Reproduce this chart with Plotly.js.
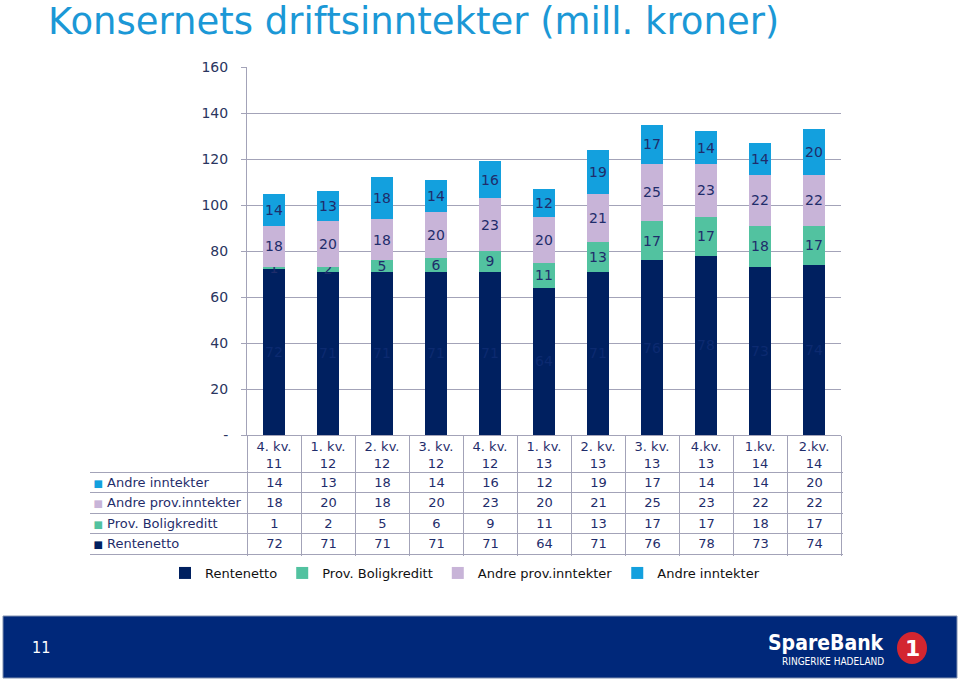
<!DOCTYPE html>
<html>
<head>
<meta charset="utf-8">
<script src="https://cdn.plot.ly/plotly-3.0.1.min.js"></script>
<style>html,body{margin:0;padding:0;background:#fff;}#chart{width:960px;height:681px;}</style>
</head>
<body>
<div id="chart"></div>
<script>
// ---- data ----
const categories = ['4. kv. 11','1. kv. 12','2. kv. 12','3. kv. 12','4. kv. 12','1. kv. 13','2. kv. 13','3. kv. 13','4.kv. 13','1.kv. 14','2.kv. 14'];
const headerLabels = ['4. kv.<br>11','1. kv.<br>12','2. kv.<br>12','3. kv.<br>12','4. kv.<br>12','1. kv.<br>13','2. kv.<br>13','3. kv.<br>13','4.kv.<br>13','1.kv.<br>14','2.kv.<br>14'];
const seriesNames = ['Rentenetto','Prov. Boligkreditt','Andre prov.inntekter','Andre inntekter'];
const rentenetto = [72,71,71,71,71,64,71,76,78,73,74];
const provBoligkreditt = [1,2,5,6,9,11,13,17,17,18,17];
const andreProvInntekter = [18,20,18,20,23,20,21,25,23,22,22];
const andreInntekter = [14,13,18,14,16,12,19,17,14,14,20];
const yTickVals = [0,20,40,60,80,100,120,140,160];
const yTickText = ['-','20','40','60','80','100','120','140','160'];

// ---- styles ----
const colors = ['#002060','#52C2A0','#C8B4D8','#13A0DE'];
const labelColors = ['#0C2A70','#1F2D6B','#1F2D6B','#1F2D6B'];
const navyText = '#1F2D6B';
const gridCol = '#A3A3B8';
const FONT = 'DejaVu Sans, Verdana, sans-serif';
const COND = 'DejaVu Sans Condensed, DejaVu Sans, sans-serif';
const W = 960, H = 681;
const px = x => x / W;
const py = y => 1 - y / H;

// table geometry (pixels)
const tblLeft = 91, plotLeft = 247, plotRight = 841, hdrTop = 435, rowsTop = 472, rowsBottom = 554;
const pad = 1.5;
const nCat = categories.length, nRow = seriesNames.length;
const colW = (plotRight - plotLeft) / nCat;
const rowH = (rowsBottom - rowsTop) / nRow;
const nameW = plotLeft - tblLeft;

const seriesValues = [rentenetto, provBoligkreditt, andreProvInntekter, andreInntekter];

const traces = seriesValues.map((vals, i) => ({
  type: 'bar',
  name: seriesNames[i],
  x: categories,
  y: vals,
  text: vals.map(String),
  textposition: 'inside',
  insidetextanchor: 'middle',
  textangle: 0,
  constraintext: 'none',
  textfont: {family: FONT, size: 14, color: labelColors[i]},
  marker: {color: colors[i], line: {width: 0}},
  width: 0.4,
  hoverinfo: 'skip',
  xaxis: 'x', yaxis: 'y'
}));

// data table: transparent heatmap cells sharing the category positions (rows bottom->top = series order)
const clearScale = [[0, 'rgba(255,255,255,0)'], [1, 'rgba(255,255,255,0)']];
traces.push({
  type: 'heatmap',
  x: categories,
  y: seriesNames,
  z: seriesValues,
  text: seriesValues.map(r => r.map(String)),
  texttemplate: '%{text}',
  textfont: {family: FONT, size: 13, color: navyText},
  colorscale: clearScale, showscale: false, showlegend: false,
  hoverinfo: 'skip',
  xaxis: 'x2', yaxis: 'y2'
});
// row-name column
traces.push({
  type: 'heatmap',
  x: ['navn'],
  y: seriesNames,
  z: seriesNames.map(() => [0]),
  colorscale: clearScale, showscale: false, showlegend: false,
  hoverinfo: 'skip',
  xaxis: 'x3', yaxis: 'y2'
});
const rowLabels = seriesNames.map((n, i) =>
  `<span style="color:${colors[i]};font-size:10px">■</span> ${n}`);

const layout = {
  width: W, height: H,
  margin: {l: 0, r: 0, t: 0, b: 0},
  paper_bgcolor: 'white', plot_bgcolor: 'white',
  barmode: 'stack',
  showlegend: true,
  font: {family: FONT, color: navyText},
  title: {
    text: 'Konsernets driftsinntekter (mill. kroner)',
    x: px(48), xanchor: 'left', y: py(21), yanchor: 'middle',
    font: {family: FONT, size: 37, color: '#1B98D6'}
  },
  xaxis: {
    domain: [px(plotLeft), px(plotRight)],
    type: 'category',
    showticklabels: false,
    tickson: 'boundaries',
    ticks: 'outside', ticklen: rowsTop - hdrTop, tickcolor: gridCol, tickwidth: 1,
    showgrid: false, zeroline: false,
    showline: true, linecolor: gridCol, linewidth: 1,
    fixedrange: true
  },
  yaxis: {
    domain: [py(hdrTop), py(67)],
    range: [0, 160],
    tickvals: yTickVals, ticktext: yTickText,
    showgrid: true, gridcolor: gridCol, gridwidth: 1,
    zeroline: false,
    showline: true, linecolor: gridCol, linewidth: 1,
    ticks: 'outside', ticklen: 5, tickcolor: gridCol,
    ticklabelstandoff: 10,
    tickfont: {family: FONT, size: 14, color: '#2A3560'},
    fixedrange: true
  },
  xaxis2: {
    domain: [px(plotLeft - pad), px(plotRight + pad)],
    range: [-0.5 - pad / colW, nCat - 0.5 + pad / colW],
    anchor: 'y2', side: 'top',
    type: 'category', categoryorder: 'array', categoryarray: categories,
    tickvals: categories, ticktext: headerLabels,
    tickangle: 0,
    tickfont: {family: FONT, size: 13, color: navyText},
    ticklabelstandoff: -1,
    tickson: 'boundaries', ticks: '',
    showgrid: true, gridcolor: gridCol, gridwidth: 1,
    zeroline: false, showline: false,
    fixedrange: true
  },
  xaxis3: {
    domain: [px(tblLeft - pad), px(plotLeft + pad)],
    range: [-0.5 - pad / nameW, 0.5 + pad / nameW],
    anchor: 'y2',
    type: 'category',
    showticklabels: false,
    tickson: 'boundaries', ticks: '',
    showgrid: true, gridcolor: gridCol, gridwidth: 1,
    zeroline: false, showline: false,
    fixedrange: true
  },
  yaxis2: {
    domain: [py(rowsBottom + pad), py(rowsTop - pad)],
    range: [-0.5 - pad / rowH, nRow - 0.5 + pad / rowH],
    anchor: 'x3',
    type: 'category', categoryorder: 'array', categoryarray: seriesNames,
    tickvals: seriesNames, ticktext: rowLabels,
    ticklabelposition: 'inside',
    ticklabelstandoff: 1,
    tickfont: {family: FONT, size: 13, color: navyText},
    tickson: 'boundaries', ticks: '',
    showgrid: true, gridcolor: gridCol, gridwidth: 1,
    zeroline: false, showline: false,
    fixedrange: true
  },
  legend: {
    orientation: 'h',
    x: px(465), xanchor: 'center',
    y: py(573), yanchor: 'middle',
    traceorder: 'normal',
    font: {family: FONT, size: 13, color: '#111'},
    itemwidth: 30,
    bgcolor: 'rgba(0,0,0,0)'
  },
  shapes: [
    {type: 'rect', xref: 'paper', yref: 'paper', x0: px(3), x1: px(957), y0: py(678), y1: py(616),
     fillcolor: '#00287A', line: {color: '#8090B0', width: 1}, layer: 'above'},
    {type: 'circle', xref: 'paper', yref: 'paper', x0: px(897), x1: px(927), y0: py(664), y1: py(632),
     fillcolor: '#D32630', line: {width: 0}, layer: 'above'}
  ],
  annotations: [
    {text: '11', xref: 'paper', yref: 'paper', x: px(41), y: py(647), xanchor: 'center', yanchor: 'middle',
     showarrow: false, font: {family: COND, size: 16, color: 'white'}},
    {text: '<b>SpareBank</b>', xref: 'paper', yref: 'paper', x: px(886), y: py(643), xanchor: 'right', yanchor: 'middle',
     showarrow: false, font: {family: COND, size: 21, color: 'white'}},
    {text: 'RINGERIKE HADELAND', xref: 'paper', yref: 'paper', x: px(886), y: py(661), xanchor: 'right', yanchor: 'middle',
     showarrow: false, font: {family: COND, size: 10, color: 'white'}},
    {text: '<b>1</b>', xref: 'paper', yref: 'paper', x: px(912), y: py(648), xanchor: 'center', yanchor: 'middle',
     showarrow: false, font: {family: 'DejaVu Sans, sans-serif', size: 22, color: 'white'}}
  ]
};

Plotly.newPlot('chart', traces, layout, {displayModeBar: false, staticPlot: true});
</script>
</body>
</html>
